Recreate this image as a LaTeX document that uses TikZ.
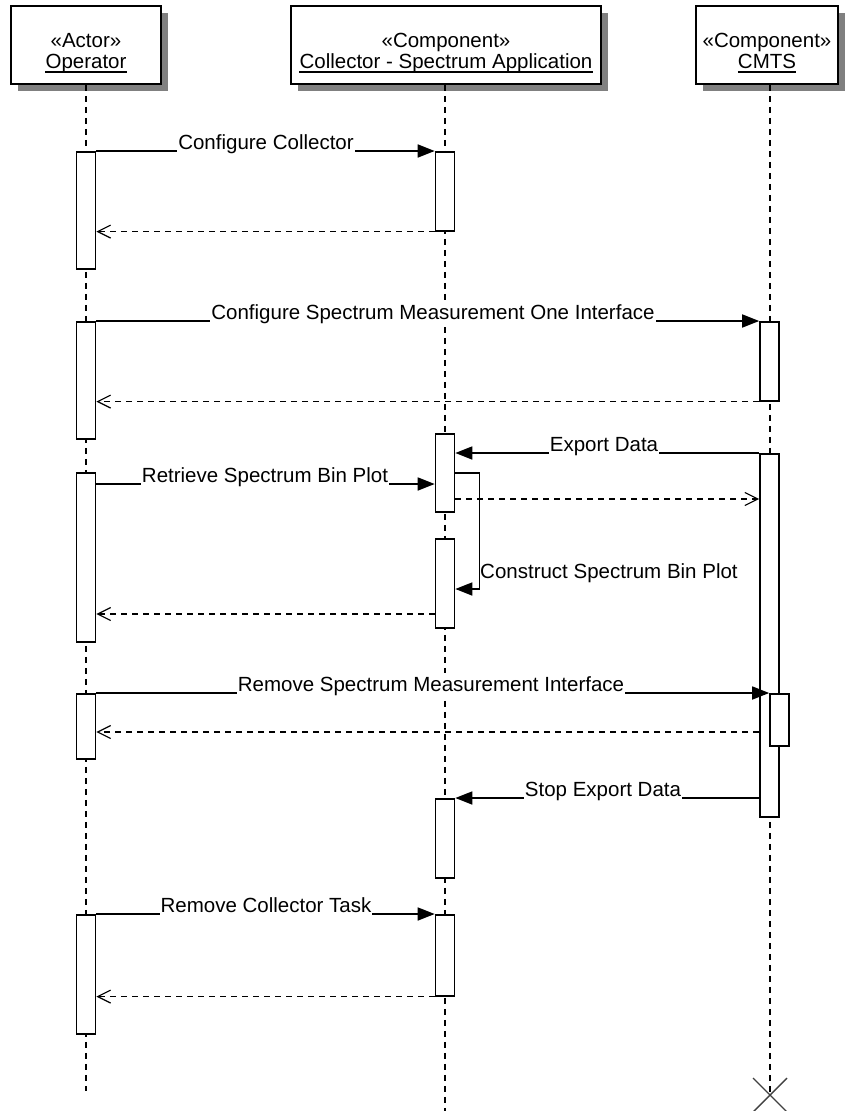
\documentclass[tikz,border=0pt]{standalone}
\usepackage{fontspec}
\setmainfont{Liberation Sans}
\usetikzlibrary{arrows.meta,calc}
\begin{document}
\begin{tikzpicture}[x=1pt,y=-1pt,
  lbl/.style={font=\fontsize{20.5}{23.5}\selectfont, inner sep=0pt},
  headbox/.style={draw, line width=1.8pt, fill=white, minimum height=78pt, inner sep=0pt},
  shadowfill/.style={fill=black!50},
  lifeline/.style={line width=1.4pt, dash pattern=on 6pt off 5pt},
  act/.style={draw, fill=white, line width=1.6pt, minimum width=19pt, inner sep=0pt, anchor=north},
  syncmsg/.style={line width=1.6pt, -{Triangle[length=17pt,width=13pt]}},
  retmsg/.style={line width=1.5pt, dash pattern=on 6pt off 5pt, -{Straight Barb[length=13pt,width=13pt,line width=1.2pt]}},
  msglbl/.style={lbl, fill=white, inner xsep=1pt, inner ysep=3.5pt, anchor=base},
  underl/.style={line width=1.4pt},
  destroy/.style={line width=1.4pt, black!75}
]
\useasboundingbox (0,0) rectangle (844,1111);

% header boxes with shadows
\coordinate (opC) at (86,45);
\coordinate (colC) at (446,45);
\coordinate (cmC) at (767,45);
\fill[shadowfill] ($(opC)+(-75,-39)+(7,7)$) rectangle ($(opC)+(75,39)+(7,7)$);
\fill[shadowfill] ($(colC)+(-155,-39)+(7,7)$) rectangle ($(colC)+(155,39)+(7,7)$);
\fill[shadowfill] ($(cmC)+(-71,-39)+(7,7)$) rectangle ($(cmC)+(71,39)+(7,7)$);
\node[headbox, minimum width=150pt] (opBox) at (opC) {};
\node[headbox, minimum width=310pt] (colBox) at (colC) {};
\node[headbox, minimum width=142pt] (cmBox) at (cmC) {};

\node[lbl, anchor=base] (opSt) at (86,47) {«Actor»};
\node[lbl, anchor=base] (opNm) at (86,68) {Operator};
\node[lbl, anchor=base] (colSt) at (446,47) {«Component»};
\node[lbl, anchor=base] (colNm) at (446,68) {Collector - Spectrum Application};
\node[lbl, anchor=base] (cmSt) at (767,47) {«Component»};
\node[lbl, anchor=base] (cmNm) at (767,68) {CMTS};
\draw[underl] ([yshift=-4pt]opNm.base west) -- ([yshift=-4pt]opNm.base east);
\draw[underl] ([yshift=-4pt]colNm.base west) -- ([yshift=-4pt]colNm.base east);
\draw[underl] ([yshift=-4pt]cmNm.base west) -- ([yshift=-4pt]cmNm.base east);

% lifelines
\coordinate (opEnd) at (86,1091);
\coordinate (colEnd) at (445,1111);
\coordinate (cmEnd) at (770,1095);
\draw[lifeline] (opBox.south -| opEnd) -- (opEnd);
\draw[lifeline] (colBox.south -| colEnd) -- (colEnd);
\draw[lifeline] (cmBox.south -| cmEnd) -- (cmEnd);
\draw[destroy] ($(cmEnd)+(-17,-17)$) -- ($(cmEnd)+(17,17)$);
\draw[destroy] ($(cmEnd)+(17,-17)$) -- ($(cmEnd)+(-17,17)$);

% activations
\node[act, minimum height=117pt] (opA1) at (86,151) {};
\node[act, minimum height=117pt] (opA2) at (86,321) {};
\node[act, minimum height=169pt] (opA3) at (86,472) {};
\node[act, minimum height=65pt]  (opA4) at (86,693) {};
\node[act, minimum height=119pt] (opA5) at (86,914) {};
\node[act, minimum height=79pt] (colA1) at (445,151) {};
\node[act, minimum height=78pt] (colA2) at (445,433) {};
\node[act, minimum height=89pt] (colA3) at (445,538) {};
\node[act, minimum height=79pt] (colA4) at (445,798) {};
\node[act, minimum height=81pt] (colA5) at (445,914) {};
\node[act, minimum height=79pt]  (cmA1) at (769.5,321) {};
\node[act, minimum height=363pt] (cmA2) at (769.5,453) {};
\node[act, minimum height=52pt]  (cmA3) at (779.5,693) {};

% message levels
\coordinate (yRet) at (0,484);
\coordinate (yAsync) at (0,499);
\coordinate (ySelfA) at (0,473);
\coordinate (ySelfB) at (0,589);
\coordinate (yR5) at (0,614);
\coordinate (yR6) at (0,732);

% messages
\draw[syncmsg] (opA1.north east) -- (colA1.north west);
\draw[retmsg] (colA1.south west) -- (colA1.south west -| opA1.east);
\draw[syncmsg] (opA2.north east) -- (cmA1.north west);
\draw[retmsg] (cmA1.south west) -- (cmA1.south west -| opA2.east);
\draw[syncmsg] (cmA2.north west) -- (cmA2.north west -| colA2.east);
\draw[syncmsg] (opA3.east |- yRet) -- (colA2.west |- yRet);
\draw[retmsg] (colA2.east |- yAsync) -- (cmA2.west |- yAsync);
\draw[syncmsg] (colA2.east |- ySelfA) -- ++(24,0) |- (colA3.east |- ySelfB);
\draw[retmsg] (colA3.west |- yR5) -- (opA3.east |- yR5);
\draw[syncmsg] (opA4.north east) -- (cmA3.north west);
\draw[retmsg] (cmA2.west |- yR6) -- (opA4.east |- yR6);
\draw[syncmsg] (cmA2.west |- colA4.north) -- (colA4.north east);
\draw[syncmsg] (opA5.north east) -- (colA5.north west);
\draw[retmsg] (colA5.south west) -- (colA5.south west -| opA5.east);

% labels
\node[msglbl] (l1) at (266,149) {Configure Collector};
\node[msglbl] (l2) at (433,319) {Configure Spectrum Measurement One Interface};
\node[msglbl] (l3) at (604,451) {Export Data};
\node[msglbl] (l4) at (265,482) {Retrieve Spectrum Bin Plot};
\node[lbl, anchor=base west] (l5) at (480,578) {Construct Spectrum Bin Plot};
\node[msglbl] (l6) at (431,691) {Remove Spectrum Measurement Interface};
\node[msglbl] (l7) at (603,796) {Stop Export Data};
\node[msglbl] (l8) at (266,912) {Remove Collector Task};
\end{tikzpicture}
\end{document}
